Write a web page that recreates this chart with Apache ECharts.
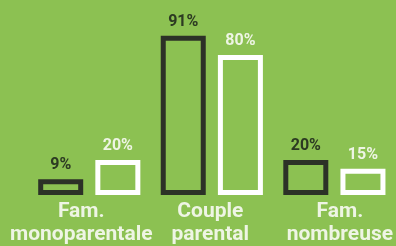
<!DOCTYPE html>
<html><head><meta charset="utf-8">
<script src="https://cdn.jsdelivr.net/npm/echarts@6/dist/echarts.min.js"></script>
<style>html,body{margin:0;padding:0;background:#8cc152}#c{width:396px;height:246px}</style>
</head><body><div id="c"></div>
<script>
const categories = ['Fam.\nmonoparentale', 'Couple\nparental', 'Fam.\nnombreuse'];
const seriesDark = [9, 91, 20];
const seriesWhite = [20, 80, 15];
const labelShift = [[0,16,0,0],[0,3,0,0],[0,0,0,11]];

const chart = echarts.init(document.getElementById('c'), null, {renderer:'canvas'});
chart.setOption({
  backgroundColor: '#8cc152',
  animation: false,
  grid: {left: 28, right: 0, top: 20, bottom: 51},
  xAxis: {
    type: 'category',
    data: categories.map((c,i)=>({value:c, textStyle:{padding: labelShift[i]}})),
    axisLine: {show:false}, axisTick:{show:false},
    axisLabel: {color:'#eef5e4', fontFamily:'Roboto', fontWeight:'bold', fontSize:21, lineHeight:23, margin:5, interval:0}
  },
  yAxis: {type:'value', min:0, max:100, show:false, splitLine:{show:false}},
  series: [
    {type:'bar', data: seriesDark, barWidth:45, barGap:'27%',
     itemStyle:{color:'rgba(0,0,0,0)', borderColor:'#2c3127', borderWidth:5},
     label:{show:true, position:'top', distance:6, formatter:'{c}%', color:'#2c3a22', fontFamily:'Roboto', fontWeight:'bold', fontSize:16}},
    {type:'bar', data: seriesWhite, barWidth:45,
     itemStyle:{color:'rgba(0,0,0,0)', borderColor:'#ffffff', borderWidth:5},
     label:{show:true, position:'top', distance:6, formatter:'{c}%', color:'#eef5e4', fontFamily:'Roboto', fontWeight:'bold', fontSize:16}}
  ]
});
</script></body></html>
